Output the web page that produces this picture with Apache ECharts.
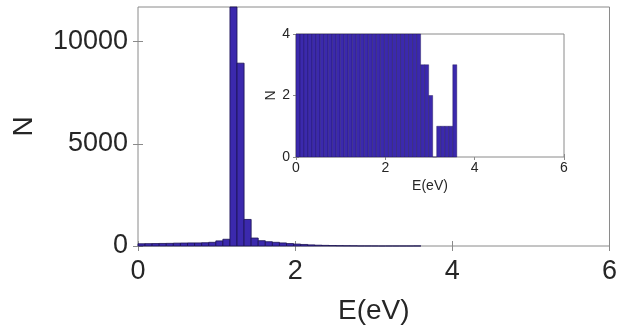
<!DOCTYPE html>
<html>
<head>
<meta charset="utf-8">
<script src="https://cdn.jsdelivr.net/npm/echarts@6/dist/echarts.min.js"></script>
<style>
  html, body { margin: 0; padding: 0; background: #fff; }
  #chart { width: 620px; height: 330px; }
</style>
</head>
<body>
<div id="chart"></div>
<script>
// histogram bin edges (eV)
const binEdges = [0, 0.09, 0.18, 0.27, 0.36, 0.45, 0.54, 0.63, 0.72, 0.81, 0.9,
  0.99, 1.08, 1.17, 1.26, 1.35, 1.44, 1.53, 1.62, 1.71, 1.8,
  1.89, 1.98, 2.07, 2.16, 2.25, 2.34, 2.43, 2.52, 2.61, 2.7,
  2.79, 2.88, 2.97, 3.06, 3.15, 3.24, 3.33, 3.42, 3.51, 3.6];
// counts per bin
const counts = [110, 115, 120, 125, 130, 140, 145, 150, 150, 160,
  180, 250, 330, 11700, 8950, 1300, 390, 260, 210, 180,
  150, 120, 95, 75, 55, 40, 30, 22, 16, 12,
  9, 3, 3, 2, 0, 1, 1, 1, 1, 3];

const xTicks = [0, 2, 4, 6];
const mainYTicks = [0, 5000, 10000];
const insetYTicks = [0, 2, 4];
const mainYMax = 11700;

const FONT = 'Liberation Sans';
const TEXT = '#262626';
const BOX = '#8a8a8a';
const FILL = '#3b29ad';
const EDGE = '#1b1250';

const bins = counts.map((c, i) => [binEdges[i], binEdges[i + 1], c]);

function renderBin(params, api) {
  const p0 = api.coord([api.value(0), api.value(2)]);
  const p1 = api.coord([api.value(1), 0]);
  const rect = echarts.graphic.clipRectByRect({
    x: p0[0], y: p0[1], width: p1[0] - p0[0], height: p1[1] - p0[1]
  }, params.coordSys);
  if (!rect) return;
  return {
    type: 'rect',
    shape: rect,
    style: { fill: FILL, stroke: EDGE, lineWidth: params.seriesIndex === 0 ? 0.8 : 0.4 }
  };
}

// plain value axis, ticks pointing inward like matlab
function axis(grid, pos, ticks, max, fontSize, tickLen, showLabel, margin) {
  return {
    type: 'value', gridIndex: grid, position: pos,
    min: ticks[0], max: max,
    splitLine: { show: false },
    axisLine: { show: false },
    axisTick: { show: true, inside: true, length: tickLen, customValues: ticks,
      lineStyle: { color: BOX } },
    axisLabel: { show: showLabel, color: TEXT, fontFamily: FONT, fontSize: fontSize,
      margin: margin, customValues: ticks, formatter: v => String(v) }
  };
}

const chart = echarts.init(document.getElementById('chart'));

const xMain = axis(0, 'bottom', xTicks, 6, 27, 5, true, 12);
Object.assign(xMain, {
  name: 'E(eV)', nameLocation: 'middle', nameGap: 51,
  nameTextStyle: { color: TEXT, fontFamily: FONT, fontSize: 28 }
});
const yMain = axis(0, 'left', mainYTicks, mainYMax, 27, 5, true, 10);
Object.assign(yMain, {
  name: 'N', nameLocation: 'middle', nameGap: 100,
  nameTextStyle: { color: TEXT, fontFamily: FONT, fontSize: 28 }
});

const xInset = axis(1, 'bottom', xTicks, 6, 14, 3, true, 4);
Object.assign(xInset, {
  name: 'E(eV)', nameLocation: 'middle', nameGap: 22,
  nameTextStyle: { color: TEXT, fontFamily: FONT, fontSize: 14 }
});
const yInset = axis(1, 'left', insetYTicks, 4, 14, 3, true, 6);
Object.assign(yInset, {
  name: 'N', nameLocation: 'middle', nameGap: 17,
  nameTextStyle: { color: TEXT, fontFamily: FONT, fontSize: 14 }
});

chart.setOption({
  animation: false,
  backgroundColor: '#fff',
  grid: [
    { left: 138, right: 8, top: 7, bottom: 83, show: true, backgroundColor: '#fff',
      borderColor: BOX, borderWidth: 1 },
    { left: 296, right: 56, top: 34, bottom: 173, show: true, backgroundColor: '#fff',
      borderColor: BOX, borderWidth: 1, z: 10 }
  ],
  xAxis: [
    xMain,
    axis(0, 'top', xTicks, 6, 27, 5, false, 8),
    xInset,
    axis(1, 'top', xTicks, 6, 14, 3, false, 4)
  ],
  yAxis: [
    yMain,
    axis(0, 'right', mainYTicks, mainYMax, 27, 5, false, 8),
    yInset,
    axis(1, 'right', insetYTicks, 4, 14, 3, false, 4)
  ],
  series: [
    { type: 'custom', xAxisIndex: 0, yAxisIndex: 0, data: bins, renderItem: renderBin },
    { type: 'custom', xAxisIndex: 2, yAxisIndex: 2, data: bins, renderItem: renderBin, z: 11 }
  ]
});
</script>
</body>
</html>
